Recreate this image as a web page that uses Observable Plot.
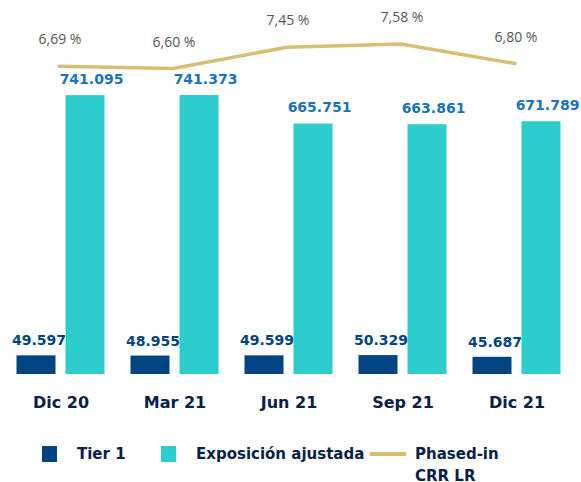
<!DOCTYPE html>
<html>
<head>
<meta charset="utf-8">
<script src="https://cdn.jsdelivr.net/npm/d3@7"></script>
<script src="https://cdn.jsdelivr.net/npm/@observablehq/plot@0.6"></script>
<style>
  html, body { margin: 0; padding: 0; background: #fff; }
  #wrap { position: relative; width: 581px; height: 482px; overflow: hidden; }
  #wrap > div.layer { position: absolute; left: 0; top: 0; }
  #legend { position: absolute; left: 0; top: 440px; width: 581px; height: 42px;
    font-family: "DejaVu Sans", sans-serif; font-weight: bold; font-size: 15px; color: #072146; }
  #legend .sw { position: absolute; }
  #legend .lb { position: absolute; line-height: 22px; }
</style>
</head>
<body>
<div id="wrap">
  <div class="layer" id="bars"></div>
  <div class="layer" id="line"></div>
  <div id="legend"></div>
</div>
<script>
const periods = ["Dic 20", "Mar 21", "Jun 21", "Sep 21", "Dic 21"];
const tier1 = [49597, 48955, 49599, 50329, 45687];
const exposicion = [741095, 741373, 665751, 663861, 671789];
const ratio = [6.69, 6.60, 7.45, 7.58, 6.80];
const seriesNames = ["Tier 1", "Exposición ajustada", "Phased-in CRR LR"];
const colors = ["#004481", "#2dcccd", "#d8be75"];

const loc = d3.formatLocale({decimal: ",", thousands: ".", grouping: [3], currency: ["", ""]});
const fmtInt = loc.format(",d");
const fmtPct = d => loc.format(".2f")(d) + " %";

const rows = periods.map((p, i) => ({p, t: tier1[i], e: exposicion[i], r: ratio[i]}));

const W = 581, H = 425;
const xOpts = {type: "band", domain: periods, paddingInner: 0.658, paddingOuter: 0.3245, axis: null};

const bars = Plot.plot({
  width: W, height: H,
  marginLeft: 4, marginRight: 8, marginTop: 0, marginBottom: 51,
  style: {background: "transparent", overflow: "visible"},
  x: {...xOpts, axis: "bottom", tickSize: 0, tickPadding: 22, label: null},
  y: {domain: [0, 800000], range: [374, 73], axis: null},
  marks: [
    Plot.barY(rows, {x: "p", y: "t", fill: colors[0], dx: -24.5}),
    Plot.barY(rows, {x: "p", y: "e", fill: colors[1], dx: 24.5}),
    Plot.text(rows, {x: "p", y: "t", text: d => fmtInt(d.t), dx: -22, dy: -15, lineAnchor: "middle",
      fill: "#004481", fontWeight: "bold", fontSize: 14, fontFamily: "DejaVu Sans"}),
    Plot.text(rows, {x: "p", y: "e", text: d => fmtInt(d.e), dx: 30.5, dy: -16.5, lineAnchor: "middle",
      fill: "#1973b8", fontWeight: "bold", fontSize: 14, fontFamily: "DejaVu Sans"})
  ]
});
bars.style.fontFamily = "DejaVu Sans";
const axisG = bars.querySelector("g[aria-label='x-axis tick label']") || bars.querySelector("g[aria-label='x-axis']");
if (axisG) { axisG.setAttribute("font-size", "16"); axisG.setAttribute("font-weight", "bold"); axisG.setAttribute("fill", "#072146"); axisG.style.fontSize = "16px"; axisG.style.fill = "#072146"; }
document.getElementById("bars").appendChild(bars);

const line = Plot.plot({
  width: W, height: H,
  marginLeft: 4, marginRight: 8, marginTop: 0, marginBottom: 51,
  style: {background: "transparent", overflow: "visible"},
  x: xOpts,
  y: {domain: [6, 8], range: [83.1, 32.9], axis: null},
  marks: [
    Plot.line(rows, {x: "p", y: "r", stroke: colors[2], strokeWidth: 3.5, dx: -2}),
    Plot.text(rows, {x: "p", y: "r", text: d => fmtPct(d.r), dy: -26.5, dx: -1, lineAnchor: "middle",
      fill: "#555555", fontSize: 14, fontFamily: "Open Sans"})
  ]
});
document.getElementById("line").appendChild(line);

// legend
const lg = document.getElementById("legend");
const items = [
  {sw: "sq", color: colors[0], sx: 42, lx: 77, text: seriesNames[0]},
  {sw: "sq", color: colors[1], sx: 161, lx: 196, text: seriesNames[1]},
  {sw: "ln", color: colors[2], sx: 370, lx: 415, text: seriesNames[2]}
];
items.forEach(it => {
  const s = document.createElement("div");
  s.className = "sw";
  s.style.left = it.sx + "px";
  s.style.background = it.color;
  if (it.sw === "sq") { s.style.top = "6px"; s.style.width = "15px"; s.style.height = "16px"; }
  else { s.style.top = "12px"; s.style.width = "36px"; s.style.height = "4px"; }
  lg.appendChild(s);
  const l = document.createElement("div");
  l.className = "lb";
  l.style.left = it.lx + "px";
  l.style.top = "3px";
  if (it.sw === "ln") l.style.width = "100px";
  l.textContent = it.text;
  lg.appendChild(l);
});
</script>
</body>
</html>
